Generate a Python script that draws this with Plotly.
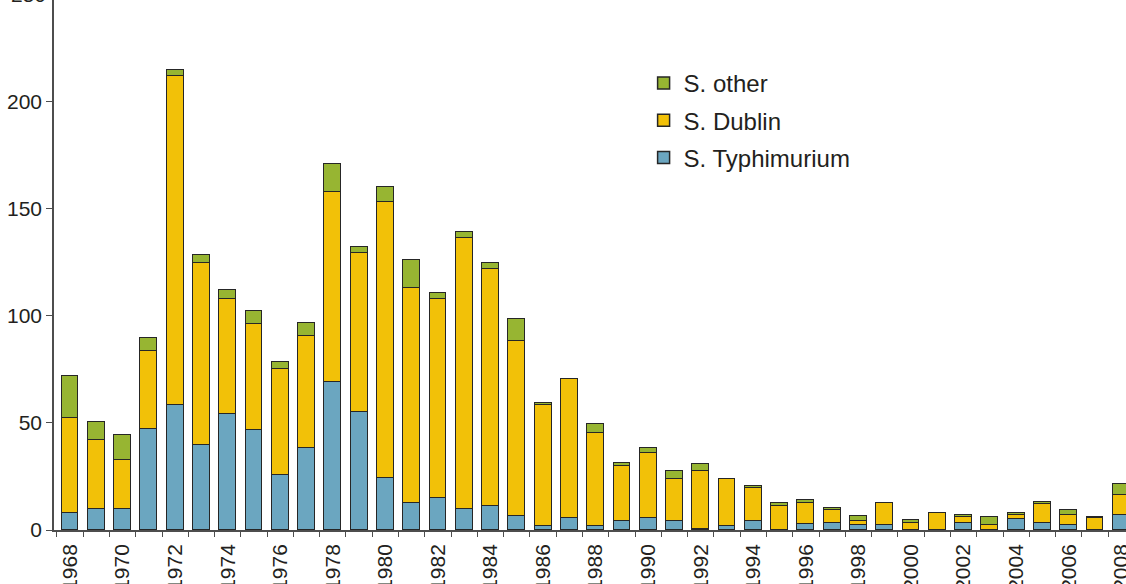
import plotly.graph_objects as go

years = list(range(1968, 2009))

typhimurium = [8, 10, 10, 47, 58.5, 39.5, 54, 46.5, 25.5, 38.5,
               69, 55, 24.5, 12.5, 15, 10, 11, 6.5, 2, 5.5,
               2, 4, 5.5, 4, 0.5, 2, 4, 0, 3, 3.5,
               2.5, 2.5, 0, 0, 3.5, 0, 5, 3.5, 2.5, 0,
               7]
dublin = [44.5, 32, 22.5, 36.5, 153.5, 85, 54, 49.5, 49.5, 52,
          89, 74.5, 128.5, 100.5, 93, 126.5, 111, 81.5, 56.5, 65,
          43.5, 26, 30.5, 20, 27, 22, 15.5, 11, 9.5, 6,
          1.5, 10, 3.5, 8, 2.5, 2.5, 2, 8.5, 4.5, 5.5,
          9.5]
other = [19.5, 8.5, 12, 6, 2.5, 4, 4, 6, 3.5, 6,
         13, 2.5, 7, 13, 2.5, 2.5, 2.5, 10.5, 1, 0,
         4, 1.5, 2.5, 3.5, 3.5, 0, 1, 1.5, 1.5, 1,
         2.5, 0, 1, 0, 1, 3.5, 1, 1, 2.5, 0.5,
         5]

label_years = list(range(1968, 2009, 2))
y_ticks = [0, 50, 100, 150, 200]
y_max = 247.4

colors = {
    'S. Typhimurium': '#6BA6C0',
    'S. Dublin': '#F2C108',
    'S. other': '#97B532',
}
# legend shows the top of the stack first
legend_rank = {'S. other': 1, 'S. Dublin': 2, 'S. Typhimurium': 3}

font = "Liberation Sans, Arial, sans-serif"

fig = go.Figure()
for name, vals in [('S. Typhimurium', typhimurium), ('S. Dublin', dublin), ('S. other', other)]:
    fig.add_trace(go.Bar(
        x=years, y=vals, name=name, legendgroup=name,
        legendrank=legend_rank[name],
        width=0.64,
        marker=dict(color=colors[name], line=dict(color='#262626', width=1.5)),
    ))

fig.update_layout(
    barmode='stack',
    width=1126, height=584,
    margin=dict(l=54, r=0, t=0, b=54),
    plot_bgcolor='white', paper_bgcolor='white',
    font=dict(family=font, color='#231f20', size=21),
    legend=dict(
        x=0.55, y=0.885, xanchor='left', yanchor='top',
        traceorder='grouped', tracegroupgap=3,
        font=dict(size=24, color='#231f20'),
        bgcolor='rgba(0,0,0,0)',
    ),
    bargap=0,
)

fig.update_xaxes(
    range=[1967.39, 2008.18],
    tickvals=label_years, ticktext=[str(y) for y in label_years],
    tickangle=-90, ticks='', showgrid=False, zeroline=False,
    showline=True, linecolor='#4d4d4d', linewidth=1.5,
    tickfont=dict(size=21), ticklabelstandoff=4, ticklabeloverflow='allow',
    minor=dict(tick0=1967.5, dtick=1, ticks='outside', ticklen=5,
               tickcolor='#4d4d4d', tickwidth=1.3, showgrid=False),
    automargin=False,
)
fig.update_yaxes(
    range=[0, y_max],
    tickvals=y_ticks, ticks='outside', ticklen=6, tickcolor='#4d4d4d', tickwidth=1.3,
    showgrid=False, zeroline=False,
    showline=True, linecolor='#4d4d4d', linewidth=1.5,
    tickfont=dict(size=21), ticklabelstandoff=0,
    automargin=False,
)

# the 250 tick sits just above the cropped top edge
fig.add_annotation(x=0, xref='paper', y=250 / y_max, yref='paper', text='250',
                   showarrow=False, xanchor='right', yanchor='middle', xshift=-6,
                   font=dict(size=21, color='#231f20'))

fig.write_html("out.html", config={'displayModeBar': False},
               post_script="document.body.style.margin='0';")
